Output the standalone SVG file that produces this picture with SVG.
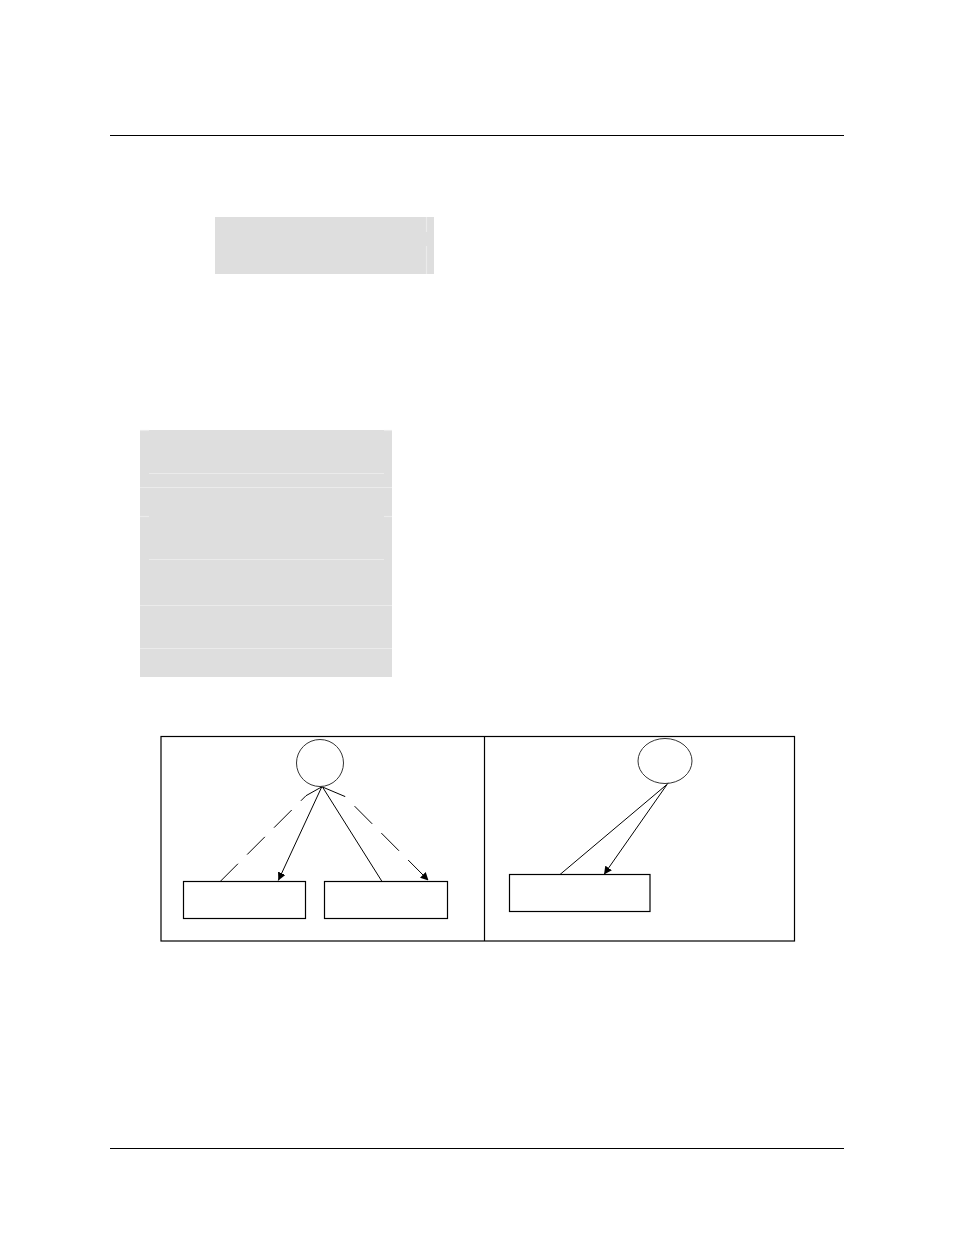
<svg xmlns="http://www.w3.org/2000/svg" width="954" height="1235" viewBox="0 0 954 1235">
<style>
.rule{stroke:#000;stroke-width:1.2;fill:none}
.gray{fill:#dedede;stroke:none}
.hl{stroke:#ebebeb;stroke-width:1.2;fill:none}
.box{fill:#fff;stroke:#000;stroke-width:1.2}
.node{fill:#fff;stroke:#333;stroke-width:1}
.edge{stroke:#000;stroke-width:1;fill:none}
.dash{stroke-dasharray:25 13}
</style>
<defs>
<marker id="ah" viewBox="0 0 10 10" refX="10" refY="5" markerWidth="8" markerHeight="8" markerUnits="userSpaceOnUse" orient="auto">
<path d="M0,0 L10,5 L0,10 z" fill="#000"/>
</marker>
</defs>
<rect width="954" height="1235" fill="#fff"/>
<line class="rule" x1="110" y1="135.5" x2="844" y2="135.5"/>
<line class="rule" x1="110" y1="1148.5" x2="844" y2="1148.5"/>
<g id="graybox1">
<rect class="gray" x="215" y="217" width="219" height="57"/>
<line class="hl" x1="426.5" y1="217" x2="426.5" y2="232"/>
<line class="hl" x1="426.5" y1="246" x2="426.5" y2="274"/>
</g>
<g id="graybox2">
<rect class="gray" x="140" y="430" width="252" height="247"/>
<line class="hl" x1="140" y1="430.5" x2="149" y2="430.5"/>
<line class="hl" x1="384" y1="430.5" x2="392" y2="430.5"/>
<line class="hl" x1="149" y1="473.5" x2="384" y2="473.5"/>
<line class="hl" x1="140" y1="487.5" x2="392" y2="487.5"/>
<line class="hl" x1="140" y1="516.5" x2="149" y2="516.5"/>
<line class="hl" x1="384" y1="516.5" x2="392" y2="516.5"/>
<line class="hl" x1="149" y1="559.5" x2="384" y2="559.5"/>
<line class="hl" x1="140" y1="605.5" x2="392" y2="605.5"/>
<line class="hl" x1="140" y1="648.5" x2="392" y2="648.5"/>
</g>
<g id="panel">
<rect class="box" x="161" y="736.5" width="633.5" height="204.5"/>
<line class="rule" x1="484.5" y1="736.5" x2="484.5" y2="941"/>
</g>
<g id="circleL"><circle class="node" cx="320" cy="763" r="23.5"/></g>
<g id="boxL1"><rect class="box" x="183.5" y="881.5" width="122" height="37"/></g>
<g id="boxL2"><rect class="box" x="324.5" y="881.5" width="123" height="37"/></g>
<g id="circleR"><ellipse class="node" cx="665" cy="761" rx="27" ry="22.5"/></g>
<g id="boxR"><rect class="box" x="509.5" y="874.5" width="140.5" height="37"/></g>
<g id="connectors">
<path class="edge dash" d="M321.5,787 L306,795.7 L220.7,881"/>
<line class="edge" x1="321.7" y1="787" x2="278.3" y2="880.5" marker-end="url(#ah)"/>
<line class="edge" x1="322.5" y1="787" x2="381.7" y2="881"/>
<path class="edge dash" d="M322.5,787 L345,796.5 L428.5,880.5" marker-end="url(#ah)"/>
<line class="edge" x1="668.3" y1="783.3" x2="560" y2="874.5"/>
<line class="edge" x1="666.7" y1="785" x2="604" y2="874.5" marker-end="url(#ah)"/>
</g>
</svg>
